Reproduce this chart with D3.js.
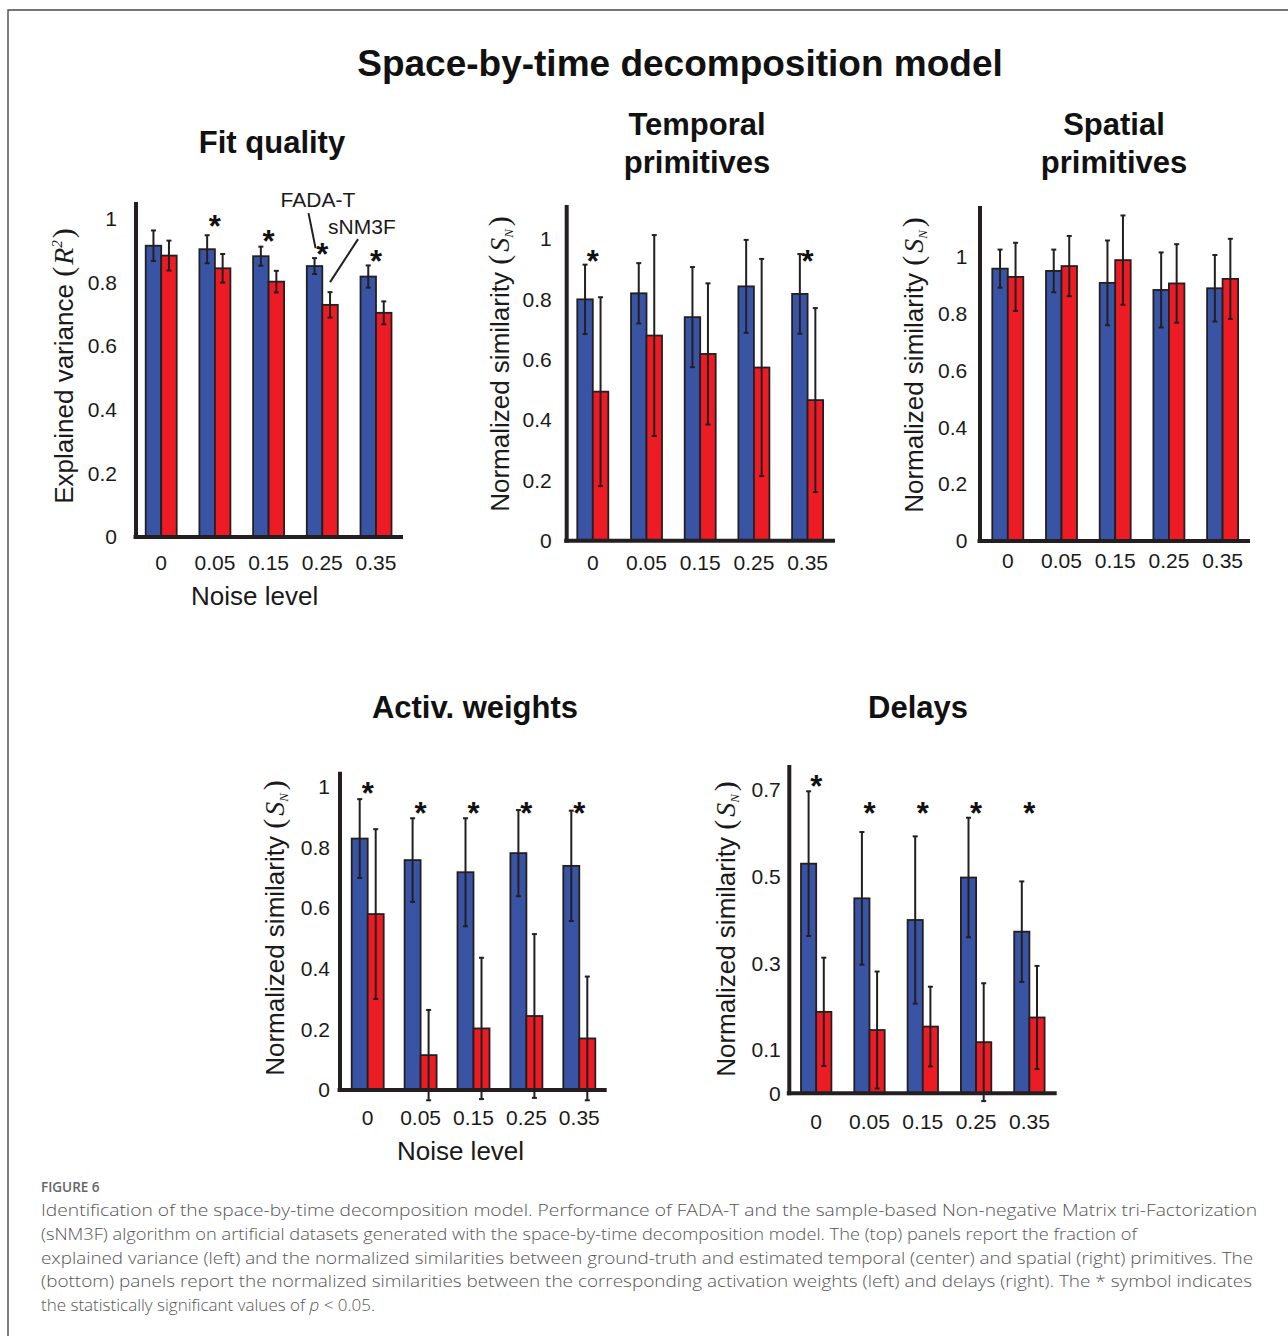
<!DOCTYPE html>
<html>
<head>
<meta charset="utf-8">
<script src="https://cdn.jsdelivr.net/npm/d3@7"></script>
<style>
  html, body { margin: 0; padding: 0; background: #fff; }
  svg { display: block; }
</style>
</head>
<body>
<svg id="chart" width="1288" height="1336"></svg>
<script>
// ---------------- DATA ----------------
const noiseLevels = ["0", "0.05", "0.15", "0.25", "0.35"];
const seriesNames = ["FADA-T", "sNM3F"];

// Fit quality (explained variance R^2)
const fitFADA = [0.916, 0.905, 0.883, 0.852, 0.819];
const fitFADAErr = [0.048, 0.044, 0.030, 0.025, 0.035];
const fitSNM = [0.885, 0.845, 0.803, 0.730, 0.705];
const fitSNMErr = [0.047, 0.045, 0.034, 0.040, 0.036];
const fitStars = [null, 0.997, 0.950, 0.909, 0.887];

// Temporal primitives
const tempFADA = [0.800, 0.820, 0.741, 0.843, 0.818];
const tempFADAErr = [0.115, 0.100, 0.166, 0.154, 0.132];
const tempSNM = [0.494, 0.680, 0.619, 0.574, 0.466];
const tempSNMErr = [0.313, 0.333, 0.234, 0.360, 0.305];
const tempStars = [0.947, null, null, null, 0.947];

// Spatial primitives
const spatFADA = [0.958, 0.950, 0.908, 0.883, 0.889];
const spatFADAErr = [0.067, 0.075, 0.149, 0.132, 0.117];
const spatSNM = [0.929, 0.967, 0.988, 0.906, 0.922];
const spatSNMErr = [0.120, 0.106, 0.157, 0.138, 0.141];
const spatStars = [null, null, null, null, null];

// Activation weights
const actFADA = [0.829, 0.758, 0.718, 0.781, 0.739];
const actFADAErr = [0.130, 0.138, 0.178, 0.142, 0.182];
const actSNM = [0.580, 0.115, 0.203, 0.244, 0.170];
const actSNMErr = [0.280, 0.149, 0.233, 0.270, 0.204];
const actStars = [1.0, 0.934, 0.934, 0.934, 0.934];

// Delays
const delFADA = [0.530, 0.450, 0.400, 0.498, 0.373];
const delFADAErr = [0.167, 0.153, 0.193, 0.138, 0.116];
const delSNM = [0.188, 0.146, 0.154, 0.118, 0.175];
const delSNMErr = [0.125, 0.135, 0.092, 0.136, 0.119];
const delStars = [0.724, 0.66, 0.66, 0.66, 0.66];

// Tick labels
const unitTicks = [0, 0.2, 0.4, 0.6, 0.8, 1];
const delayTicks = [0, 0.1, 0.3, 0.5, 0.7];

const mainTitle = "Space-by-time decomposition model";
const captionHead = "FIGURE 6";
const captionLines = [
  "Identification of the space-by-time decomposition model. Performance of FADA-T and the sample-based Non-negative Matrix tri-Factorization",
  "(sNM3F) algorithm on artificial datasets generated with the space-by-time decomposition model. The (top) panels report the fraction of",
  "explained variance (left) and the normalized similarities between ground-truth and estimated temporal (center) and spatial (right) primitives. The",
  "(bottom) panels report the normalized similarities between the corresponding activation weights (left) and delays (right). The * symbol indicates"
];

// ---------------- STYLE / LAYOUT ----------------
const BLUE = "#3a54a5", RED = "#ed1c24", INK = "#231f20";
const SANS = "'Liberation Sans', Arial, Helvetica, sans-serif";
const SERIF = "'Liberation Serif', 'Times New Roman', serif";

const svg = d3.select("#chart");

// frame
svg.append("path")
  .attr("d", "M8,1336 V10 H1288")
  .attr("fill", "none").attr("stroke", "#4a4a4a").attr("stroke-width", 1.4);

svg.append("text")
  .attr("x", 680).attr("y", 76)
  .attr("text-anchor", "middle")
  .attr("font-family", SANS).attr("font-weight", "bold").attr("font-size", 37)
  .attr("fill", "#111")
  .text(mainTitle);

const panels = [
  { title: ["Fit quality"], titleX: 272, titleY: [153],
    fada: fitFADA, fadaErr: fitFADAErr, snm: fitSNM, snmErr: fitSNMErr, stars: fitStars,
    ticks: unitTicks, refVal: 1, x0: 136, yZero: 537, yRef: 219, yTopPx: 202, xRight: 403,
    g0: 145.7, step: 53.7, bw: 15.5, tickPadY: 19, tickPadX: 18.5,
    ylabel: "R", labelX: 64, labelY: 366, xlabel: true, xlabelY: 605, xlabelDx: -14, legend: true },
  { title: ["Temporal", "primitives"], titleX: 697, titleY: [135, 173],
    fada: tempFADA, fadaErr: tempFADAErr, snm: tempSNM, snmErr: tempSNMErr, stars: tempStars,
    ticks: unitTicks, refVal: 1, x0: 566.7, yZero: 540.7, yRef: 239, yTopPx: 205, xRight: 835,
    g0: 577.3, step: 53.7, bw: 15.5, tickPadY: 15, tickPadX: 14,
    ylabel: "S", labelX: 500, labelY: 364 },
  { title: ["Spatial", "primitives"], titleX: 1114, titleY: [135, 173],
    fada: spatFADA, fadaErr: spatFADAErr, snm: spatSNM, snmErr: spatSNMErr, stars: spatStars,
    ticks: unitTicks, refVal: 1, x0: 980, yZero: 541, yRef: 256.7, yTopPx: 206, xRight: 1250,
    g0: 992.3, step: 53.7, bw: 15.5, tickPadY: 12.7, tickPadX: 12,
    ylabel: "S", labelX: 914, labelY: 365 },
  { title: ["Activ. weights"], titleX: 475, titleY: [718],
    fada: actFADA, fadaErr: actFADAErr, snm: actSNM, snmErr: actSNMErr, stars: actStars,
    ticks: unitTicks, refVal: 1, x0: 340, yZero: 1090, yRef: 786.7, yTopPx: 771.7, xRight: 606.7,
    g0: 351.7, step: 52.9, bw: 16, tickPadY: 10, tickPadX: 20.5,
    ylabel: "S", labelX: 275, labelY: 928, xlabel: true, xlabelY: 1160, xlabelDx: -13 },
  { title: ["Delays"], titleX: 918, titleY: [718],
    fada: delFADA, fadaErr: delFADAErr, snm: delSNM, snmErr: delSNMErr, stars: delStars,
    ticks: delayTicks, refVal: 0.7, x0: 789.3, yZero: 1093.3, yRef: 790, yTopPx: 765, xRight: 1056.7,
    g0: 801, step: 53.3, bw: 15.2, tickPadY: 8.5, tickPadX: 20.5,
    ylabel: "S", labelX: 725.5, labelY: 929 }
];

panels.forEach(P => {
  const g = svg.append("g");

  // titles
  P.title.forEach((t, i) => {
    g.append("text")
      .attr("x", P.titleX).attr("y", P.titleY[i])
      .attr("text-anchor", "middle")
      .attr("font-family", SANS).attr("font-weight", "bold").attr("font-size", 31)
      .attr("fill", "#111").text(t);
  });

  // scales
  const y = d3.scaleLinear().domain([0, P.refVal]).range([P.yZero, P.yRef]);
  const yTop = y.invert(P.yTopPx);
  const p = 1 - 2 * P.bw / P.step;
  const r0 = P.g0 - p * P.step;
  const x = d3.scaleBand().domain(noiseLevels)
    .range([r0, r0 + P.step * (noiseLevels.length + p)]).padding(p);
  const xs = d3.scaleBand().domain(seriesNames).range([0, x.bandwidth()]);
  const color = d3.scaleOrdinal().domain(seriesNames).range([BLUE, RED]);

  const rows = noiseLevels.map((lvl, i) => ({
    lvl,
    bars: [
      { s: "FADA-T", v: P.fada[i], e: P.fadaErr[i] },
      { s: "sNM3F", v: P.snm[i], e: P.snmErr[i] }
    ],
    star: P.stars[i]
  }));

  // bars
  const grp = g.selectAll("g.grp").data(rows).join("g")
    .attr("class", "grp")
    .attr("transform", d => `translate(${x(d.lvl)},0)`);

  grp.selectAll("rect").data(d => d.bars).join("rect")
    .attr("x", d => xs(d.s))
    .attr("y", d => y(d.v))
    .attr("width", xs.bandwidth())
    .attr("height", d => y(0) - y(d.v))
    .attr("fill", d => color(d.s))
    .attr("stroke", INK).attr("stroke-width", 1.8);

  // error bars
  const eb = grp.selectAll("g.eb").data(d => d.bars).join("g").attr("class", "eb");
  eb.append("line")
    .attr("x1", d => xs(d.s) + xs.bandwidth() / 2)
    .attr("x2", d => xs(d.s) + xs.bandwidth() / 2)
    .attr("y1", d => y(d.v + d.e))
    .attr("y2", d => y(d.v - d.e))
    .attr("stroke", INK).attr("stroke-width", 2);
  [1, -1].forEach(sg => {
    eb.append("line")
      .attr("x1", d => xs(d.s) + xs.bandwidth() / 2 - 2.5)
      .attr("x2", d => xs(d.s) + xs.bandwidth() / 2 + 2.5)
      .attr("y1", d => y(d.v + sg * d.e))
      .attr("y2", d => y(d.v + sg * d.e))
      .attr("stroke", INK).attr("stroke-width", 2);
  });

  // stars
  grp.filter(d => d.star != null).append("text")
    .attr("x", x.bandwidth() / 2)
    .attr("y", d => y(d.star))
    .attr("dy", "0.55em")
    .attr("text-anchor", "middle")
    .attr("font-family", SANS).attr("font-weight", "bold").attr("font-size", 31)
    .attr("fill", "#111").text("*");

  // axis lines
  g.append("path")
    .attr("d", d3.line()([[P.x0, y(0) + 2], [P.x0, y(yTop)]]))
    .attr("stroke", INK).attr("stroke-width", 4).attr("fill", "none");
  g.append("path")
    .attr("d", d3.line()([[P.x0 - 2.5, y(0)], [P.xRight, y(0)]]))
    .attr("stroke", INK).attr("stroke-width", 4).attr("fill", "none");

  // tick labels
  const ya = g.append("g").attr("transform", `translate(${P.x0},0)`)
    .call(d3.axisLeft(y).tickValues(P.ticks).tickSize(0).tickPadding(P.tickPadY).tickFormat(d => String(d)));
  ya.select(".domain").remove();
  ya.selectAll("text").attr("font-family", SANS).attr("font-size", 21).attr("fill", "#1a1a1a");

  const xa = g.append("g").attr("transform", `translate(0,${P.yZero})`)
    .call(d3.axisBottom(x).tickSize(0).tickPadding(P.tickPadX));
  xa.select(".domain").remove();
  xa.selectAll("text").attr("font-family", SANS).attr("font-size", 21).attr("fill", "#1a1a1a");

  // y label
  const yl = g.append("text")
    .attr("transform", `translate(${P.labelX},${P.labelY}) rotate(-90)`)
    .attr("text-anchor", "middle")
    .attr("dy", "0.35em")
    .attr("font-family", SANS).attr("font-size", 26).attr("fill", "#1a1a1a");
  if (P.ylabel === "R") {
    yl.append("tspan").text("Explained variance ");
    yl.append("tspan").attr("font-family", SERIF).attr("font-size", 30).text("(");
    yl.append("tspan").attr("font-family", SERIF).attr("font-style", "italic").attr("font-size", 28).attr("dx", 2).text("R");
    yl.append("tspan").attr("font-family", SERIF).attr("font-style", "italic").attr("font-size", 15).attr("dy", -11).text("2");
    yl.append("tspan").attr("font-family", SERIF).attr("font-size", 30).attr("dy", 11).attr("dx", 2).text(")");
  } else {
    yl.append("tspan").text("Normalized similarity ");
    yl.append("tspan").attr("font-family", SERIF).attr("font-size", 30).text("(");
    yl.append("tspan").attr("font-family", SERIF).attr("font-style", "italic").attr("font-size", 28).attr("dx", 3).text("S");
    yl.append("tspan").attr("font-family", SERIF).attr("font-style", "italic").attr("font-size", 13).attr("dy", 4).text("N");
    yl.append("tspan").attr("font-family", SERIF).attr("font-size", 30).attr("dy", -4).attr("dx", 3).text(")");
  }

  // x label
  if (P.xlabel) {
    g.append("text")
      .attr("x", (x.range()[0] + x.range()[1]) / 2 + P.xlabelDx)
      .attr("y", P.xlabelY)
      .attr("text-anchor", "middle")
      .attr("font-family", SANS).attr("font-size", 26).attr("fill", "#1a1a1a")
      .text("Noise level");
  }

  // legend annotation pointing to the 0.25 group bars
  if (P.legend) {
    const lvl = "0.25", i = noiseLevels.indexOf(lvl);
    const bx = s => x(lvl) + xs(s) + xs.bandwidth() / 2;
    const fx = bx("FADA-T"), fy = y(P.fada[i] + P.fadaErr[i]) - 10;
    const sx = bx("sNM3F"), sy = y(P.snm[i] + P.snmErr[i]) - 10;
    g.append("path").attr("d", d3.line()([[fx - 6, fy - 35], [fx + 1, fy]]))
      .attr("stroke", INK).attr("stroke-width", 2).attr("fill", "none");
    g.append("path").attr("d", d3.line()([[sx + 28, sy - 43], [sx, sy]]))
      .attr("stroke", INK).attr("stroke-width", 2).attr("fill", "none");
    g.append("text").attr("x", fx - 34).attr("y", fy - 41)
      .attr("font-family", SANS).attr("font-size", 21).attr("fill", "#1a1a1a").text("FADA-T");
    g.append("text").attr("x", sx - 2).attr("y", sy - 48)
      .attr("font-family", SANS).attr("font-size", 21).attr("fill", "#1a1a1a").text("sNM3F");
  }
});

// ---------------- CAPTION ----------------
const CAP = "'Open Sans', 'Noto Sans', sans-serif";
svg.append("text")
  .attr("x", 41).attr("y", 1192)
  .attr("font-family", CAP).attr("font-weight", 600).attr("font-size", 13.5)
  .attr("fill", "#666").text(captionHead);

const capWidths = [1216, 1096, 1212, 1211];
const capBase = [1216, 1240, 1264, 1287, 1311];
captionLines.forEach((t, i) => {
  svg.append("text")
    .attr("x", 41).attr("y", capBase[i])
    .attr("font-family", CAP).attr("font-weight", 300).attr("font-size", 17)
    .attr("fill", "#555")
    .attr("textLength", capWidths[i]).attr("lengthAdjust", "spacingAndGlyphs")
    .text(t);
});
const last = svg.append("text")
  .attr("x", 41).attr("y", capBase[4])
  .attr("font-family", CAP).attr("font-weight", 300).attr("font-size", 17)
  .attr("fill", "#555");
last.append("tspan").text("the statistically significant values of ");
last.append("tspan").attr("font-style", "italic").text("p");
last.append("tspan").text(" < 0.05.");
</script>
</body>
</html>
